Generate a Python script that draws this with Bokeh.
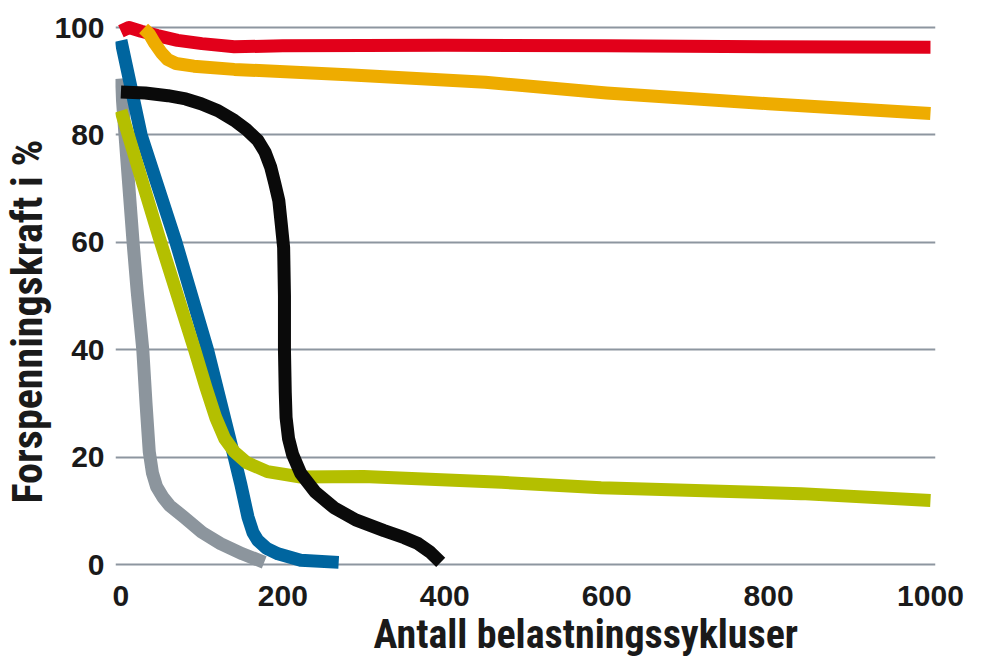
from bokeh.plotting import figure
from bokeh.models import Range1d, FixedTicker, Title
from bokeh.embed import file_html
from bokeh.resources import INLINE

# Data
red_x = [0, 10, 25, 45, 70, 100, 140, 200, 400, 600, 800, 1000]
red_y = [99.3, 100, 99.3, 98.5, 97.6, 97.0, 96.4, 96.6, 96.7, 96.6, 96.4, 96.3]

orange_x = [28, 35, 42, 50, 58, 68, 90, 140, 280, 450, 600, 800, 1000]
orange_y = [99.8, 98.8, 97.0, 95.3, 94.0, 93.3, 92.8, 92.2, 91.2, 89.8, 87.8, 85.8, 84.0]

blue_x = [0, 25, 68, 107, 140, 148, 157, 163, 169, 180, 194, 222, 269]
blue_y = [97.6, 80, 60, 40, 20, 15, 8.8, 6.0, 4.5, 3.0, 2.0, 0.8, 0.4]

gray_x = [0, 5, 10, 15, 20, 27, 31, 35, 39, 44, 52, 60, 78, 100, 123, 150, 177]
gray_y = [90.5, 80, 70, 60, 51, 40, 30, 21, 17, 14.5, 12.5, 11, 8.8, 6.0, 3.9, 2.0, 0.4]

yellow_x = [0, 47, 91, 105, 117, 128, 140, 155, 181, 222, 300, 470, 593, 840, 1000]
yellow_y = [84.5, 61, 40, 33, 27.4, 23.5, 21, 19, 17.3, 16.3, 16.4, 15.3, 14.3, 13.2, 11.9]

black_x = [0, 30, 58, 80, 99, 120, 140, 155, 169, 178, 185, 190, 195, 198, 201, 202, 202,
           203, 204, 207, 212, 222, 240, 263, 290, 325, 350, 367, 382, 395]
black_y = [88, 87.8, 87.3, 86.7, 85.8, 84.5, 82.7, 81, 79, 76.8, 74, 71, 67.8, 63.5, 59, 50, 40,
           32, 27.4, 23.5, 20.5, 17, 13.5, 10.6, 8.3, 6.3, 5.0, 3.9, 2.3, 0.4]

x_ticks = [0, 200, 400, 600, 800, 1000]
y_ticks = [0, 20, 40, 60, 80, 100]

x_title = "Antall belastningssykluser"
y_title = "Forspenningskraft i %"

p = figure(width=991, height=659, output_backend="svg", toolbar_location=None,
           x_range=Range1d(-6.7, 1006.2), y_range=Range1d(-1.3, 102.98),
           min_border_left=100, min_border_right=56, min_border_top=11, min_border_bottom=88)
p.outline_line_color = None
p.background_fill_color = "white"
p.border_fill_color = "white"

p.xgrid.visible = False
p.ygrid.grid_line_color = "#8d96a0"
p.ygrid.grid_line_width = 2
p.ygrid.bounds = (0, 1000)

for ax in (p.xaxis[0], p.yaxis[0]):
    ax.axis_line_color = None
    ax.major_tick_line_color = None
    ax.minor_tick_line_color = None
    ax.major_label_text_font = "Liberation Sans"
    ax.major_label_text_font_style = "bold"
    ax.major_label_text_font_size = "30px"
    ax.major_label_text_color = "#1a1a1a"
p.xaxis.ticker = FixedTicker(ticks=x_ticks)
p.yaxis.ticker = FixedTicker(ticks=y_ticks)
p.xaxis.major_label_standoff = 8
p.yaxis.major_label_standoff = 5

lw = 13
p.line(red_x, red_y, line_color="#e2001a", line_width=lw, line_join="round")
p.line(orange_x, orange_y, line_color="#eeac00", line_width=lw, line_join="round")
p.line(gray_x, gray_y, line_color="#8c959d", line_width=lw, line_join="round")
p.line(blue_x, blue_y, line_color="#00659f", line_width=lw, line_join="round")
p.line(yellow_x, yellow_y, line_color="#b4bf00", line_width=lw, line_join="round")
p.line(black_x, black_y, line_color="#0a0a0a", line_width=lw, line_join="round")

tx = Title(text=x_title, align="left", offset=258, text_font="Roboto Condensed",
           text_font_style="bold", text_font_size="40px", text_color="#1a1a1a", standoff=0)
p.add_layout(tx, "below")
ty = Title(text=y_title, align="left", offset=68, text_font="Roboto Condensed",
           text_font_style="bold", text_font_size="42px", text_color="#1a1a1a", standoff=0)
p.add_layout(ty, "left")

open("out.html", "w").write(file_html(p, INLINE))
